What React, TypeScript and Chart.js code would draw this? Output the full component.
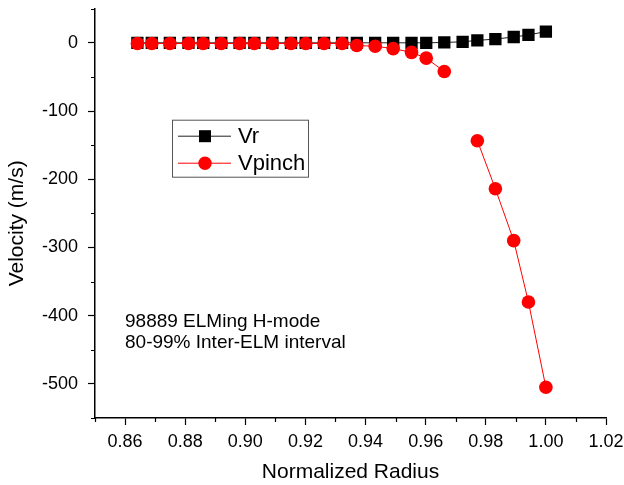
import React, { useEffect, useRef } from "react";
import { Chart, registerables } from "chart.js";

Chart.register(...registerables);

const radius = [0.8641, 0.8689, 0.8749, 0.8811, 0.886, 0.892, 0.8981, 0.903, 0.909, 0.9152, 0.9201, 0.9262, 0.9322, 0.9371, 0.9432, 0.9492, 0.9553, 0.9602, 0.9662, 0.9723, 0.9772, 0.9832, 0.9893, 0.9942, 1.0];
const vr = [0, 0, 0, 0, 0, 0, 0, 0, 0, 0, 0, 0, 0, 0, 0, 0, 0, 0, 0.5, 1.5, 3.5, 5.5, 8.5, 11.5, 16.5];
const vpinch: (number | null)[] = [-1, -1, -1, -1, -1, -1, -1, -1, -1, -1, -1, -1, -1, -4, -5, -8.5, -14, -22.5, -42, null, -143.5, -214, -290, -380, -505];
const seriesNames = ["Vr", "Vpinch"];
const annotationLines = ["98889 ELMing H-mode", "80-99% Inter-ELM interval"];
const xTitle = "Normalized Radius";
const yTitle = "Velocity (m/s)";

const FONT = "'Liberation Sans', Arial, Helvetica, sans-serif";

export default function App() {
  const ref = useRef<HTMLCanvasElement | null>(null);
  useEffect(() => {
    if (!ref.current) return;
    const isMajorX = (v: number) => Math.round(v * 100) % 2 === 0;
    const isMajorY = (v: number) => Math.round(v) % 100 === 0;

    const extras = {
      id: "extras",
      afterDraw(chart: any) {
        const ctx = chart.ctx as CanvasRenderingContext2D;
        const ca = chart.chartArea;
        const xs = chart.scales.x;
        const ys = chart.scales.y;
        ctx.save();
        // minor ticks
        ctx.strokeStyle = "#000";
        ctx.lineWidth = 1.2;
        ctx.beginPath();
        xs.ticks.forEach((t: any) => {
          if (!isMajorX(t.value)) {
            const px = Math.round(xs.getPixelForValue(t.value)) + 0.5;
            ctx.moveTo(px, ca.bottom);
            ctx.lineTo(px, ca.bottom + 4);
          }
        });
        ys.ticks.forEach((t: any) => {
          if (!isMajorY(t.value)) {
            const py = Math.round(ys.getPixelForValue(t.value)) + 0.5;
            ctx.moveTo(ca.left, py);
            ctx.lineTo(ca.left - 4, py);
          }
        });
        ctx.stroke();

        // y title
        ctx.fillStyle = "#000";
        ctx.font = `21px ${FONT}`;
        ctx.textAlign = "center";
        ctx.textBaseline = "middle";
        ctx.save();
        ctx.translate(17, (ca.top + ca.bottom) / 2 + 10);
        ctx.rotate(-Math.PI / 2);
        ctx.fillText(yTitle, 0, 0);
        ctx.restore();

        // annotation
        ctx.font = `19px ${FONT}`;
        ctx.textAlign = "left";
        annotationLines.forEach((s, i) => {
          ctx.fillText(s, ca.left + 30, ca.top + 313 + i * 21);
        });

        // legend
        const lx = ca.left + 77;
        const ly = ca.top + 111;
        ctx.strokeStyle = "#555";
        ctx.lineWidth = 1;
        ctx.strokeRect(lx + 0.5, ly + 0.5, 136, 57);
        const rows = [ly + 16.5, ly + 43.5];
        chart.data.datasets.forEach((ds: any, i: number) => {
          const cy = rows[i];
          ctx.strokeStyle = ds.borderColor;
          ctx.lineWidth = 1;
          ctx.beginPath();
          ctx.moveTo(lx + 6, cy);
          ctx.lineTo(lx + 59, cy);
          ctx.stroke();
          ctx.fillStyle = ds.pointBackgroundColor;
          if (ds.pointStyle === "rect") {
            ctx.fillRect(lx + 33 - 6, cy - 6, 12, 12);
          } else {
            ctx.beginPath();
            ctx.arc(lx + 33, cy, 6.7, 0, Math.PI * 2);
            ctx.fill();
          }
          ctx.fillStyle = "#000";
          ctx.font = `22px ${FONT}`;
          ctx.textAlign = "left";
          ctx.textBaseline = "middle";
          ctx.fillText(ds.label, lx + 66, cy + 1);
        });
        ctx.restore();
      },
    };

    const chart = new Chart(ref.current, {
      type: "line",
      data: {
        datasets: [
          {
            label: seriesNames[0],
            data: radius.map((x, i) => ({ x, y: vr[i] })),
            borderColor: "#222",
            borderWidth: 1,
            pointStyle: "rect",
            pointRadius: 8.7,
            pointBackgroundColor: "#000",
            pointBorderColor: "#000",
            pointBorderWidth: 0,
            order: 2,
          },
          {
            label: seriesNames[1],
            data: radius.map((x, i) => ({ x, y: vpinch[i] })),
            borderColor: "#ff0000",
            borderWidth: 1,
            pointStyle: "circle",
            pointRadius: 6.8,
            pointBackgroundColor: "#ff0000",
            pointBorderColor: "#ff0000",
            pointBorderWidth: 0,
            spanGaps: false,
            order: 1,
          },
        ] as any,
      },
      options: {
        animation: false,
        responsive: true,
        maintainAspectRatio: false,
        layout: { padding: { top: 7, right: 18, left: 0, bottom: 0 } },
        plugins: { legend: { display: false }, tooltip: { enabled: false } },
        scales: {
          x: {
            type: "linear",
            min: 0.85,
            max: 1.02,
            afterFit: (s: any) => { s.height = 67; s.paddingLeft = 0; s.paddingRight = 0; },
            border: { display: true, color: "#000", width: 1.5 },
            grid: {
              drawOnChartArea: false,
              tickLength: 7,
              tickWidth: 1.2,
              tickColor: (c: any) => (c.tick && isMajorX(c.tick.value) ? "#000" : "rgba(0,0,0,0)"),
            },
            ticks: {
              stepSize: 0.01,
              autoSkip: false,
              maxRotation: 0,
              padding: 6,
              color: "#000",
              font: { family: FONT, size: 18 },
              callback: (v: any) => (isMajorX(Number(v)) ? Number(v).toFixed(2) : ""),
            },
            title: {
              display: true,
              text: xTitle,
              color: "#000",
              font: { family: FONT, size: 21 },
              padding: { top: 2, bottom: 0 },
            },
          },
          y: {
            type: "linear",
            min: -550,
            max: 50,
            afterFit: (s: any) => { s.width = 95; s.paddingTop = 0; s.paddingBottom = 0; },
            border: { display: true, color: "#000", width: 1.5 },
            grid: {
              drawOnChartArea: false,
              tickLength: 7,
              tickWidth: 1.2,
              tickColor: (c: any) => (c.tick && isMajorY(c.tick.value) ? "#000" : "rgba(0,0,0,0)"),
            },
            ticks: {
              stepSize: 50,
              autoSkip: false,
              padding: 10,
              color: "#000",
              font: { family: FONT, size: 18 },
              callback: (v: any) => (isMajorY(Number(v)) ? String(Math.round(Number(v))) : ""),
            },
          },
        },
      },
      plugins: [extras],
    });
    return () => chart.destroy();
  }, []);

  return (
    <div style={{ position: "absolute", left: 0, top: 0, width: 624, height: 485, background: "#fff" }}>
      <canvas ref={ref} />
    </div>
  );
}
